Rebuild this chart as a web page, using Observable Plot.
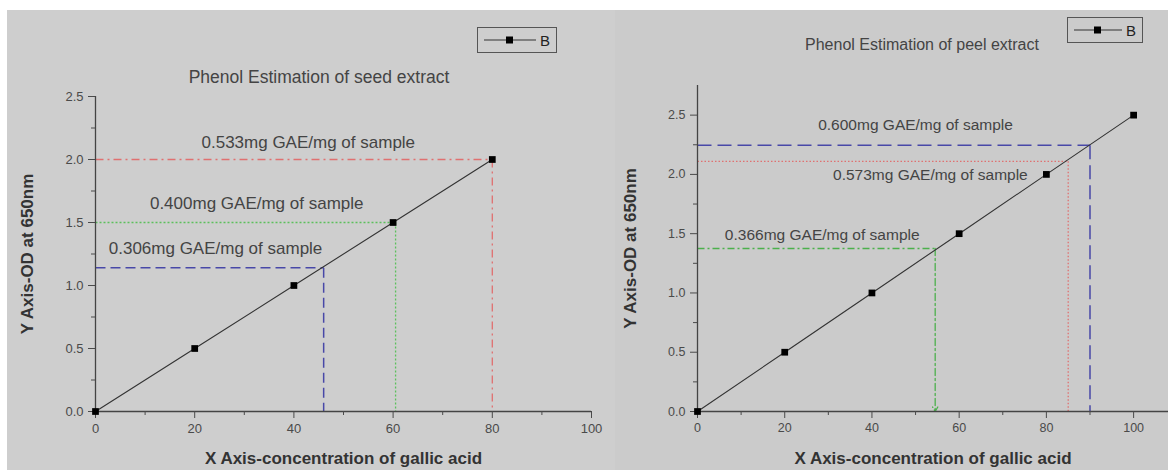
<!DOCTYPE html>
<html><head><meta charset="utf-8">
<script src="https://cdn.jsdelivr.net/npm/d3@7"></script>
<script src="https://cdn.jsdelivr.net/npm/@observablehq/plot@0.6"></script>
<style>
body{margin:0;background:#fff;width:1168px;height:470px;overflow:hidden;position:relative;font-family:"Liberation Sans",Arial,sans-serif;}
.panel{position:absolute;top:10px;height:460px;overflow:hidden;}
#left{left:7px;width:608px;background:#cecece;}
#right{left:615px;width:553px;background:#cbcbcb;}
.title{position:absolute;color:#444;white-space:nowrap;transform:translate(-50%,-50%);}
.legend{position:absolute;border:1.5px solid #555;box-sizing:border-box;display:flex;align-items:center;justify-content:center;gap:4px;color:#222;font-size:15px;}
svg g[aria-label="x-axis label"] text, svg g[aria-label="y-axis label"] text{font-weight:bold;font-size:17px;fill:#333;}
</style></head>
<body>
<div id="left" class="panel"></div>
<div id="right" class="panel"></div>
<div class="title" style="left:319px;top:77px;font-size:17.5px;">Phenol Estimation of seed extract</div>
<div class="title" style="left:922px;top:45px;font-size:16px;">Phenol Estimation of peel extract</div>
<div class="legend" style="left:477px;top:27px;width:80px;height:26px;"><svg width="52" height="10"><line x1="0" y1="5" x2="52" y2="5" stroke="#333" stroke-width="1.2"/><rect x="22" y="1.5" width="7" height="7" fill="#000"/></svg><span>B</span></div>
<div class="legend" style="left:1067px;top:17px;width:76px;height:26px;"><svg width="48" height="10"><line x1="0" y1="5" x2="48" y2="5" stroke="#333" stroke-width="1.2"/><rect x="20" y="1.5" width="7" height="7" fill="#000"/></svg><span>B</span></div>
<script>
// ---- data ----
const seedConc = [0, 20, 40, 60, 80];
const seedOD = [0, 0.5, 1.0, 1.5, 2.0];
const peelConc = [0, 20, 40, 60, 80, 100];
const peelOD = [0, 0.5, 1.0, 1.5, 2.0, 2.5];

const seedXTicks = [0, 20, 40, 60, 80, 100];
const seedXMinor = [10, 30, 50, 70, 90];
const seedYTicks = [0, 0.5, 1.0, 1.5, 2.0, 2.5];
const seedYMinor = [0.25, 0.75, 1.25, 1.75, 2.25];
const peelXTicks = [0, 20, 40, 60, 80, 100];
const peelXMinor = [10, 30, 50, 70, 90];
const peelYTicks = [0, 0.5, 1.0, 1.5, 2.0, 2.5];
const peelYMinor = [0.25, 0.75, 1.25, 1.75, 2.25];

// guide lines: [red, green, blue] for seed ; [blue, red, green] for peel
const seedGuideX = [80, 60.5, 46];
const seedGuideY = [2.0, 1.5, 1.14];
const peelGuideX = [90, 85, 54.5];
const peelGuideY = [2.245, 2.11, 1.375];

const seedNotes = ["0.533mg GAE/mg of sample", "0.400mg GAE/mg of sample", "0.306mg GAE/mg of sample"];
const seedNoteX = [42.9, 32.5, 24.2];
const seedNoteY = [2.135, 1.65, 1.293];
const peelNotes = ["0.600mg GAE/mg of sample", "0.573mg GAE/mg of sample", "0.366mg GAE/mg of sample"];
const peelNoteX = [50, 53.4, 28.6];
const peelNoteY = [2.415, 1.993, 1.487];

const xLabel = "X Axis-concentration of gallic acid";
const yLabel = "Y Axis-OD at 650nm";

// ---- helpers ----
const pts = (xs, ys) => xs.map((x, i) => ({x, y: ys[i]}));
const segs = (gx, gy, i) => [
  {x1: 0, y1: gy[i], x2: gx[i], y2: gy[i]},
  {x1: gx[i], y1: gy[i], x2: gx[i], y2: 0}
];
const notes = (t, xs, ys) => t.map((text, i) => ({text, x: xs[i], y: ys[i]}));
const L = {x1: "x1", y1: "y1", x2: "x2", y2: "y2"};
const fmt = d3.format(".1f");
const style = {background: "transparent", fontFamily: "Liberation Sans, Arial, sans-serif", fontSize: "13px", color: "#4a4a4a", overflow: "visible"};

// ---- seed panel ----
const seed = pts(seedConc, seedOD);
const seedPlot = Plot.plot({
  width: 608, height: 460,
  marginLeft: 88, marginRight: 24, marginTop: 86, marginBottom: 59,
  x: {domain: [0, 100]}, y: {domain: [0, 2.5]},
  style,
  marks: [
    Plot.link(segs(seedGuideX, seedGuideY, 0), {...L, stroke: "#e07070", strokeWidth: 1.3, strokeDasharray: "8,4,2,4"}),
    Plot.link(segs(seedGuideX, seedGuideY, 1), {...L, stroke: "#5cc05c", strokeWidth: 1.3, strokeDasharray: "2,2"}),
    Plot.link(segs(seedGuideX, seedGuideY, 2), {...L, stroke: "#4848a8", strokeWidth: 1.5, strokeDasharray: "10,5"}),
    Plot.ruleY([0], {stroke: "#444", strokeWidth: 1.3}),
    Plot.ruleX([0], {stroke: "#444", strokeWidth: 1.3}),
    Plot.axisX({ticks: seedXTicks, tickSize: 7, tickPadding: 5, fontSize: 13, label: xLabel, labelAnchor: "center", labelOffset: 52, labelArrow: "none"}),
    Plot.axisX({ticks: seedXMinor, tickSize: 4, tickFormat: () => "", label: null}),
    Plot.axisY({ticks: seedYTicks, tickSize: 7, tickPadding: 5, fontSize: 13, tickFormat: fmt, label: yLabel, labelAnchor: "center", labelOffset: 75, labelArrow: "none"}),
    Plot.axisY({ticks: seedYMinor, tickSize: 4, tickFormat: () => "", label: null}),
    Plot.line(seed, {x: "x", y: "y", stroke: "#333", strokeWidth: 1.1}),
    Plot.dot(seed, {x: "x", y: "y", symbol: "square", r: 3.8, fill: "#000"}),
    Plot.text(notes(seedNotes, seedNoteX, seedNoteY), {x: "x", y: "y", text: "text", fontSize: 17, fill: "#444"})
  ]
});
document.getElementById("left").appendChild(seedPlot);

// ---- peel panel ----
const peel = pts(peelConc, peelOD);
const peelPlot = Plot.plot({
  width: 553, height: 460,
  marginLeft: 82, marginRight: 0, marginTop: 75, marginBottom: 59,
  x: {domain: [0, 108]}, y: {domain: [0, 2.75]},
  style,
  marks: [
    Plot.link(segs(peelGuideX, peelGuideY, 0), {...L, stroke: "#4848a8", strokeWidth: 1.5, strokeDasharray: "14,6"}),
    Plot.link(segs(peelGuideX, peelGuideY, 1), {...L, stroke: "#e07070", strokeWidth: 1.3, strokeDasharray: "1.5,2"}),
    Plot.link([segs(peelGuideX, peelGuideY, 2)[0]], {...L, stroke: "#4cb04c", strokeWidth: 1.3, strokeDasharray: "7,3,2,3"}),
    Plot.arrow([segs(peelGuideX, peelGuideY, 2)[1]], {...L, stroke: "#4cb04c", strokeWidth: 1.3, strokeDasharray: "7,3,2,3", headLength: 6, bend: 0}),
    Plot.ruleY([0], {stroke: "#444", strokeWidth: 1.3}),
    Plot.ruleX([0], {stroke: "#444", strokeWidth: 1.3}),
    Plot.axisX({ticks: peelXTicks, tickSize: 7, tickPadding: 5, fontSize: 12.5, label: xLabel, labelAnchor: "center", labelOffset: 52, labelArrow: "none"}),
    Plot.axisX({ticks: peelXMinor, tickSize: 4, tickFormat: () => "", label: null}),
    Plot.axisY({ticks: peelYTicks, tickSize: 7, tickPadding: 5, fontSize: 12.5, tickFormat: fmt, label: yLabel, labelAnchor: "center", labelOffset: 74, labelArrow: "none"}),
    Plot.axisY({ticks: peelYMinor, tickSize: 4, tickFormat: () => "", label: null}),
    Plot.line(peel, {x: "x", y: "y", stroke: "#333", strokeWidth: 1.1}),
    Plot.dot(peel, {x: "x", y: "y", symbol: "square", r: 3.8, fill: "#000"}),
    Plot.text(notes(peelNotes, peelNoteX, peelNoteY), {x: "x", y: "y", text: "text", fontSize: 15.5, fill: "#444"})
  ]
});
document.getElementById("right").appendChild(peelPlot);
</script>
</body></html>
